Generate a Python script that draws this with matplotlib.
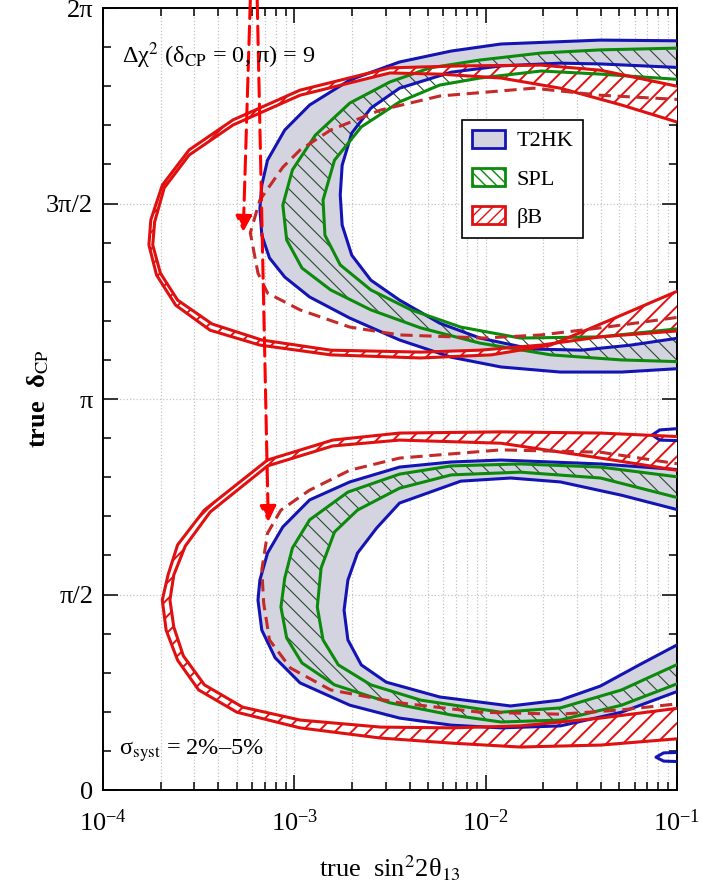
import numpy as np
import matplotlib
matplotlib.use("Agg")
import matplotlib.pyplot as plt
from matplotlib.patches import Patch
from matplotlib.ticker import MultipleLocator, FixedLocator, LogLocator

plt.rcParams['font.family'] = ['Liberation Serif', 'DejaVu Serif']
plt.rcParams['mathtext.fontset'] = 'stix'

# contours
# x: log10(true sin^2 2theta13), y: true delta_CP in units of pi
# --- upper island (pi .. 2pi) ---
t2hk_up_out_lg = [-0.95, -1.40, -1.92, -2.18, -2.45, -2.71, -2.92, -3.05, -3.14, -3.17, -3.18,
                  -3.17, -3.13, -3.05, -2.92, -2.71, -2.45, -2.18, -1.92, -1.61, -1.29, -0.95]
t2hk_up_out_d = [1.916, 1.918, 1.908, 1.890, 1.862, 1.816, 1.752, 1.688, 1.611, 1.547, 1.488,
                 1.419, 1.361, 1.312, 1.261, 1.207, 1.151, 1.107, 1.082, 1.069, 1.069, 1.079]
t2hk_up_in_lg = [-0.95, -1.40, -1.61, -1.92, -2.18, -2.45, -2.60, -2.70, -2.75, -2.76,
                 -2.75, -2.70, -2.60, -2.45, -2.24, -2.03, -1.76, -1.50, -1.24, -0.95]
t2hk_up_in_d = [1.847, 1.857, 1.859, 1.852, 1.836, 1.795, 1.744, 1.680, 1.598, 1.522,
                1.445, 1.368, 1.304, 1.253, 1.194, 1.156, 1.128, 1.125, 1.138, 1.159]

spl_up_out_lg = [-0.95, -1.40, -1.71, -2.03, -2.29, -2.50, -2.71, -2.89, -3.01, -3.06,
                 -3.04, -2.96, -2.81, -2.60, -2.34, -2.03, -1.66, -1.29, -0.95]
spl_up_out_d = [1.898, 1.893, 1.885, 1.867, 1.847, 1.811, 1.757, 1.675, 1.586, 1.496,
                1.407, 1.335, 1.279, 1.228, 1.182, 1.143, 1.113, 1.100, 1.095]
spl_up_in_lg = [-0.95, -1.40, -1.71, -2.03, -2.24, -2.45, -2.65, -2.79, -2.85,
                -2.84, -2.76, -2.60, -2.39, -2.13, -1.82, -1.40, -0.95]
spl_up_in_d = [1.816, 1.831, 1.839, 1.821, 1.803, 1.760, 1.696, 1.611, 1.509,
               1.419, 1.343, 1.279, 1.228, 1.184, 1.156, 1.159, 1.182]

bb_up_out_lg = [-0.95, -1.40, -1.71, -2.13, -2.50, -2.97, -3.32, -3.55, -3.69, -3.75, -3.76,
                -3.72, -3.62, -3.44, -3.18, -2.81, -2.34, -1.97, -1.66, -1.35, -0.95]
bb_up_out_d = [1.795, 1.841, 1.854, 1.852, 1.847, 1.790, 1.714, 1.637, 1.547, 1.458, 1.394,
               1.317, 1.240, 1.176, 1.138, 1.113, 1.105, 1.113, 1.138, 1.202, 1.286]
bb_up_in_lg = [-0.95, -1.29, -1.61, -1.92, -2.24, -2.50, -2.97, -3.32, -3.55, -3.68, -3.73,
               -3.74, -3.70, -3.61, -3.43, -3.17, -2.81, -2.34, -2.03, -1.71, -1.40, -0.95]
bb_up_in_d = [1.701, 1.752, 1.795, 1.821, 1.831, 1.834, 1.777, 1.701, 1.624, 1.540, 1.453,
              1.394, 1.322, 1.253, 1.192, 1.151, 1.125, 1.120, 1.125, 1.138, 1.159, 1.176]

dash_up_lg = [-0.95, -1.40, -1.75, -2.24, -2.55, -2.81, -2.97, -3.06, -3.18, -3.23,
              -3.19, -3.14, -2.97, -2.71, -2.45, -2.01, -1.71, -1.40, -0.95]
dash_up_d = [1.765, 1.777, 1.795, 1.775, 1.739, 1.688, 1.637, 1.593, 1.509, 1.425,
             1.322, 1.271, 1.228, 1.184, 1.164, 1.156, 1.164, 1.182, 1.212]

# --- lower island (0 .. pi) ---
t2hk_lo_out_lg = [-0.95, -1.40, -1.92, -2.18, -2.45, -2.71, -2.92, -3.06, -3.14, -3.18, -3.19,
                  -3.17, -3.10, -2.97, -2.71, -2.45, -2.18, -1.92, -1.61, -1.29, -0.95]
t2hk_lo_out_d = [0.818, 0.834, 0.844, 0.839, 0.826, 0.788, 0.742, 0.673, 0.606, 0.537, 0.486,
                 0.409, 0.338, 0.274, 0.217, 0.184, 0.166, 0.159, 0.164, 0.199, 0.261]
t2hk_lo_in_lg = [-0.95, -1.29, -1.61, -1.87, -2.13, -2.45, -2.57, -2.67, -2.72, -2.74,
                 -2.72, -2.65, -2.52, -2.24, -1.87, -1.61, -1.40, -1.19, -0.95]
t2hk_lo_in_d = [0.711, 0.754, 0.788, 0.798, 0.790, 0.734, 0.670, 0.606, 0.537, 0.460,
                0.384, 0.320, 0.276, 0.238, 0.215, 0.230, 0.266, 0.322, 0.384]

spl_lo_out_lg = [-0.95, -1.40, -1.82, -2.18, -2.45, -2.72, -2.92, -3.01, -3.05, -3.07,
                 -3.04, -2.96, -2.79, -2.50, -2.18, -1.92, -1.61, -1.29, -0.95]
spl_lo_out_d = [0.798, 0.826, 0.834, 0.829, 0.808, 0.762, 0.691, 0.619, 0.542, 0.468,
                0.389, 0.325, 0.269, 0.223, 0.192, 0.174, 0.179, 0.217, 0.281]
spl_lo_in_lg = [-0.95, -1.40, -1.82, -2.18, -2.45, -2.67, -2.79, -2.86, -2.88,
                -2.85, -2.77, -2.60, -2.34, -1.92, -1.61, -1.29, -0.95]
spl_lo_in_d = [0.742, 0.798, 0.813, 0.806, 0.772, 0.716, 0.660, 0.568, 0.468,
               0.384, 0.320, 0.269, 0.230, 0.199, 0.210, 0.256, 0.332]

bb_lo_out_lg = [-0.95, -1.40, -1.92, -2.45, -2.80, -3.14, -3.47, -3.61, -3.66, -3.69,
                -3.67, -3.61, -3.50, -3.30, -2.97, -2.55, -2.18, -1.82, -1.40, -0.95]
bb_lo_out_d = [0.903, 0.913, 0.916, 0.913, 0.895, 0.844, 0.716, 0.627, 0.550, 0.486,
               0.409, 0.332, 0.256, 0.199, 0.159, 0.133, 0.120, 0.110, 0.115, 0.133]
bb_lo_in_lg = [-0.95, -1.40, -1.92, -2.45, -2.80, -3.14, -3.44, -3.57, -3.63, -3.65,
               -3.63, -3.58, -3.47, -3.27, -2.97, -2.55, -2.18, -1.82, -1.40, -0.95]
bb_lo_in_d = [0.814, 0.849, 0.887, 0.895, 0.880, 0.829, 0.711, 0.624, 0.550, 0.486,
              0.417, 0.343, 0.269, 0.212, 0.179, 0.161, 0.159, 0.164, 0.184, 0.212]

dash_lo_lg = [-0.95, -1.40, -1.92, -2.45, -2.71, -2.92, -3.07, -3.14, -3.17,
              -3.16, -3.13, -3.02, -2.81, -2.45, -2.03, -1.61, -1.29, -0.95]
dash_lo_d = [0.831, 0.864, 0.870, 0.849, 0.818, 0.767, 0.716, 0.657, 0.563,
             0.478, 0.384, 0.312, 0.256, 0.223, 0.199, 0.194, 0.205, 0.223]

# small T2HK islands at the right edge
bump_hi_lg = [-0.95, -1.09, -1.13, -1.09, -0.95]
bump_hi_d = [0.926, 0.921, 0.908, 0.895, 0.893]
bump_lo_lg = [-0.95, -1.07, -1.11, -1.07, -0.95]
bump_lo_d = [0.097, 0.095, 0.084, 0.074, 0.072]

# arrows: (log10 s, delta/pi) of tail and tip
arrow1 = [(-3.23, 2.02), (-3.267, 1.427)]
arrow2 = [(-3.194, 2.02), (-3.136, 0.685)]

blue = '#1414b4'
green = '#0c8a0c'
red = '#e01010'
dred = '#c42a2a'
grey = '#d4d4e0'


def xy(lg, d):
    return 10 ** np.asarray(lg), np.pi * np.asarray(d)


def band(ax, lo, do, li, di, **kw):
    x = 10 ** np.concatenate([lo, li[::-1]])
    y = np.pi * np.concatenate([do, di[::-1]])
    ax.fill(x, y, **kw)


fig = plt.figure(figsize=(7.02, 8.93), dpi=100)
ax = fig.add_axes([0.1467, 0.1153, 0.8177, 0.8757])

# filled bands
band(ax, t2hk_up_out_lg, t2hk_up_out_d, t2hk_up_in_lg, t2hk_up_in_d, color=grey, lw=0, zorder=1)
band(ax, t2hk_lo_out_lg, t2hk_lo_out_d, t2hk_lo_in_lg, t2hk_lo_in_d, color=grey, lw=0, zorder=1)
with plt.rc_context({'hatch.linewidth': 0.8}):
    band(ax, spl_up_out_lg, spl_up_out_d, spl_up_in_lg, spl_up_in_d,
         facecolor='none', edgecolor='#2a4a2a', hatch='\\\\', lw=0, zorder=2)
    band(ax, spl_lo_out_lg, spl_lo_out_d, spl_lo_in_lg, spl_lo_in_d,
         facecolor='none', edgecolor='#2a4a2a', hatch='\\\\', lw=0, zorder=2)
with plt.rc_context({'hatch.linewidth': 1.4}):
    band(ax, bb_up_out_lg, bb_up_out_d, bb_up_in_lg, bb_up_in_d,
         facecolor='white', edgecolor=red, hatch='//', lw=0, zorder=3)
    band(ax, bb_lo_out_lg, bb_lo_out_d, bb_lo_in_lg, bb_lo_in_d,
         facecolor='white', edgecolor=red, hatch='//', lw=0, zorder=3)

# contour lines
for lg, d in [(t2hk_up_out_lg, t2hk_up_out_d), (t2hk_up_in_lg, t2hk_up_in_d),
              (t2hk_lo_out_lg, t2hk_lo_out_d), (t2hk_lo_in_lg, t2hk_lo_in_d),
              (bump_hi_lg, bump_hi_d), (bump_lo_lg, bump_lo_d)]:
    ax.plot(*xy(lg, d), color=blue, lw=2.2, solid_joinstyle='round', zorder=4)
for lg, d in [(spl_up_out_lg, spl_up_out_d), (spl_up_in_lg, spl_up_in_d),
              (spl_lo_out_lg, spl_lo_out_d), (spl_lo_in_lg, spl_lo_in_d)]:
    ax.plot(*xy(lg, d), color=green, lw=2.2, solid_joinstyle='round', zorder=5)
for lg, d in [(bb_up_out_lg, bb_up_out_d), (bb_up_in_lg, bb_up_in_d),
              (bb_lo_out_lg, bb_lo_out_d), (bb_lo_in_lg, bb_lo_in_d)]:
    ax.plot(*xy(lg, d), color=red, lw=2.2, solid_joinstyle='round', zorder=6)
for lg, d in [(dash_up_lg, dash_up_d), (dash_lo_lg, dash_lo_d)]:
    ax.plot(*xy(lg, d), color=dred, lw=2.2, ls=(0, (4, 2.2)), zorder=6)

for tail, tip in [arrow1, arrow2]:
    ax.annotate('', xy=(10 ** tip[0], np.pi * tip[1]),
                xytext=(10 ** tail[0], np.pi * tail[1]),
                arrowprops=dict(arrowstyle='-|>', color='red', lw=2.2, ls=(0, (6, 2.5)),
                                mutation_scale=24, shrinkA=0, shrinkB=0),
                annotation_clip=False, zorder=8)

ax.set_xscale('log')
ax.set_xlim(1e-4, 1e-1)
ax.set_ylim(0, 2 * np.pi)

ax.yaxis.set_major_locator(FixedLocator([0, np.pi / 2, np.pi, 3 * np.pi / 2, 2 * np.pi]))
ax.set_yticklabels(['0', 'π/2', 'π', '3π/2', '2π'])
ax.yaxis.set_minor_locator(MultipleLocator(np.pi / 10))
ax.xaxis.set_minor_locator(LogLocator(base=10, subs=np.arange(2, 10)))

ax.tick_params(which='both', direction='in', top=True, right=True, width=1.1)
ax.tick_params(which='major', length=11)
ax.tick_params(which='minor', length=6)
ax.tick_params(axis='x', which='major', labelsize=19, pad=14)
ax.tick_params(axis='y', which='major', labelsize=19, pad=7)

ax.grid(True, axis='x', which='both', color='#c4c4c4', ls=':', lw=0.9, zorder=0)
ax.grid(True, axis='y', which='major', color='#c4c4c4', ls=':', lw=0.9, zorder=0)
ax.set_axisbelow(True)
for s in ax.spines.values():
    s.set_linewidth(1.4)

ax.set_xlabel('true  sin$^2$2θ$_{13}$', fontsize=19)
ax.xaxis.set_label_coords(0.5, -0.082)
ax.set_ylabel('true  δ$_{\\rm CP}$', fontsize=19, fontweight='bold')
ax.yaxis.set_label_coords(-0.09, 0.5)

ax.text(0.033, 0.93, 'Δχ$^2$ (δ$_{\\rm CP}$ = 0, π) = 9', transform=ax.transAxes,
        fontsize=17.5, zorder=9)
ax.text(0.028, 0.045, 'σ$_{\\rm syst}$ = 2%–5%', transform=ax.transAxes,
        fontsize=17.5, zorder=9)

with plt.rc_context({'hatch.linewidth': 1.0}):
    handles = [Patch(facecolor=grey, edgecolor=blue, lw=2),
               Patch(facecolor='white', edgecolor=green, hatch='\\\\\\', lw=2),
               Patch(facecolor='white', edgecolor=red, hatch='///', lw=2)]
leg = ax.legend(handles, ['T2HK', 'SPL', 'βB'], loc='upper left',
                bbox_to_anchor=(0.625, 0.857), borderaxespad=0, fancybox=False,
                edgecolor='black', framealpha=1, fontsize=16, handlelength=1.5,
                handleheight=0.85, labelspacing=0.75, handletextpad=0.5, borderpad=0.45)
leg.get_frame().set_linewidth(1.2)
leg.set_zorder(10)

fig.savefig('out.png', dpi=100)
